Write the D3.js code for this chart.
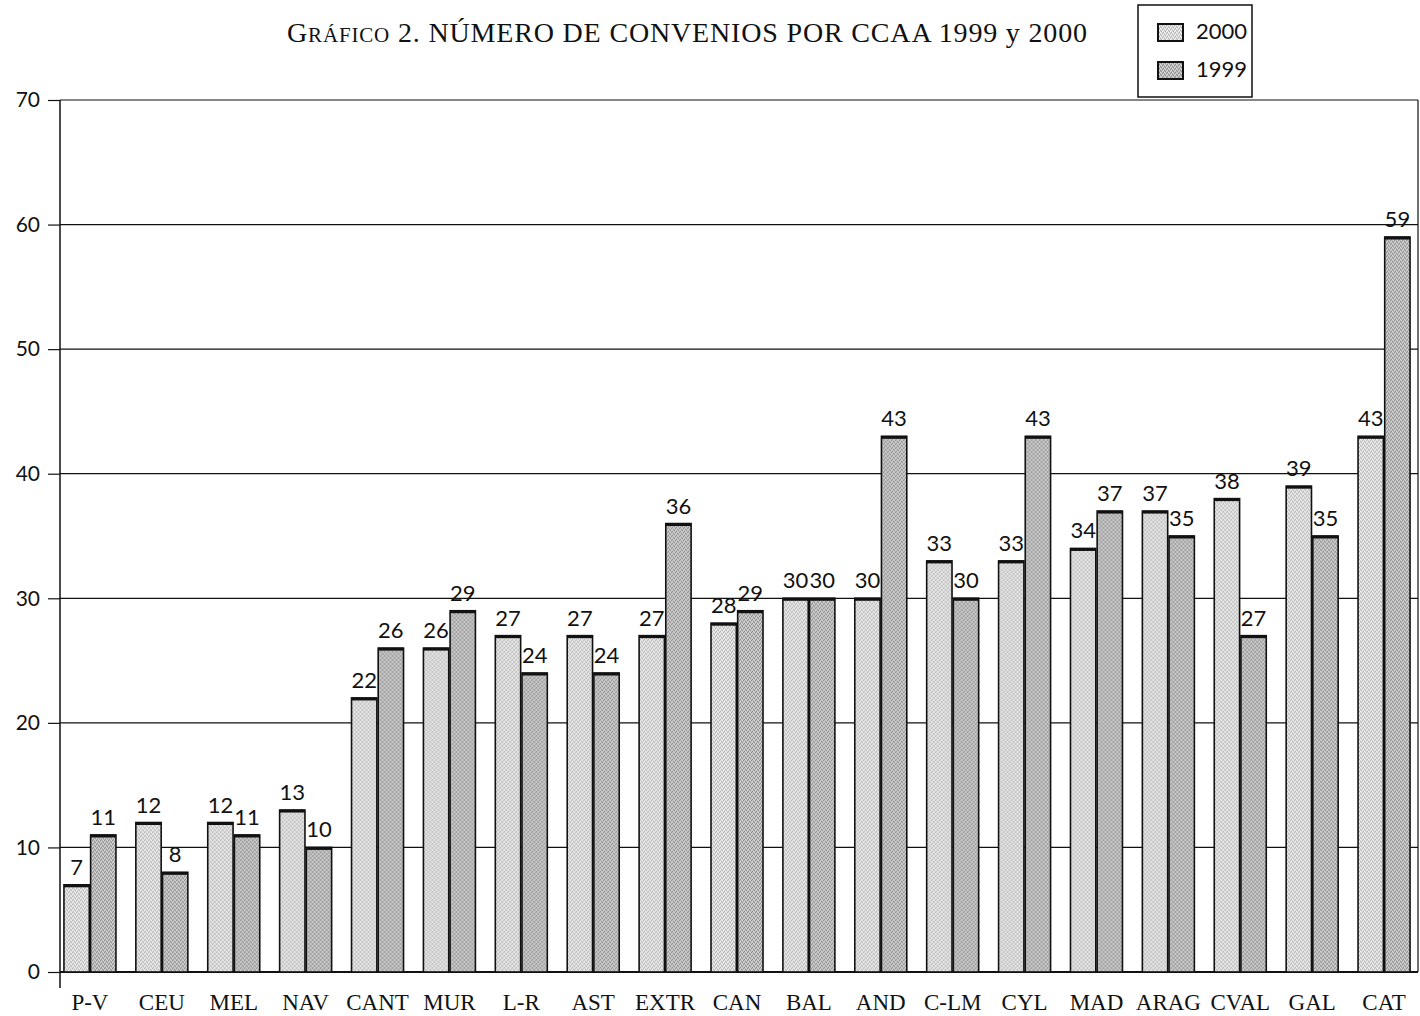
<!DOCTYPE html>
<html>
<head>
<meta charset="utf-8">
<script src="https://cdn.jsdelivr.net/npm/d3@7"></script>
<style>
  body { margin: 0; background: #fff; }
  svg { display: block; }
</style>
</head>
<body>
<div class="chart-area"></div>
<script>
// categories and series
const regions = ["P-V","CEU","MEL","NAV","CANT","MUR","L-R","AST","EXTR","CAN","BAL","AND","C-LM","CYL","MAD","ARAG","CVAL","GAL","CAT"];
const v2000 = [7,12,12,13,22,26,27,27,27,28,30,30,33,33,34,37,38,39,43];
const v1999 = [11,8,11,10,26,29,24,24,36,29,30,43,30,43,37,35,27,35,59];
const years = ["2000","1999"];
const yTicks = [0,10,20,30,40,50,60,70];

const width = 1420, height = 1016;

const svg = d3.select(".chart-area").append("svg")
  .attr("width", width)
  .attr("height", height);

// stipple patterns (fixed dots, no randomness)
const defs = svg.append("defs");
function stipple(id, base, dark, light) {
  const p = defs.append("pattern")
    .attr("id", id)
    .attr("patternUnits", "userSpaceOnUse")
    .attr("width", 4).attr("height", 4);
  p.append("rect").attr("width", 4).attr("height", 4).attr("fill", base);
  [[0,0],[2,1],[1,3],[3,2]].forEach(d => {
    p.append("rect").attr("x", d[0]).attr("y", d[1]).attr("width", 1).attr("height", 1).attr("fill", dark);
  });
  [[1,1],[3,0],[0,2],[2,3]].forEach(d => {
    p.append("rect").attr("x", d[0]).attr("y", d[1]).attr("width", 1).attr("height", 1).attr("fill", light);
  });
}
stipple("pat2000", "#dadada", "#b0b0b0", "#f2f2f2");
stipple("pat1999", "#b9b9b9", "#8c8c8c", "#d8d8d8");
const fills = {"2000": "url(#pat2000)", "1999": "url(#pat1999)"};

const x0 = d3.scaleBand().domain(regions).range([54, 1420]).padding(0);
const groupW = 52;
const x1 = d3.scaleBand().domain(years).range([0, groupW]).paddingInner(0.05);
const y = d3.scaleLinear().domain([0, 70]).range([972, 100]);

// gridlines
svg.append("g")
  .selectAll("line")
  .data(yTicks)
  .join("line")
  .attr("x1", 60).attr("x2", 1418)
  .attr("y1", d => y(d)).attr("y2", d => y(d))
  .attr("stroke", "#111").attr("stroke-width", d => d === 0 ? 2 : 1.2);

// y axis
const yAxis = d3.axisLeft(y).tickValues(yTicks).tickSize(12).tickPadding(8);
const ga = svg.append("g").attr("transform", "translate(60,0)").call(yAxis);
ga.select(".domain").remove();
ga.selectAll(".tick line").attr("stroke", "#111").attr("stroke-width", 1.2);
ga.selectAll(".tick text")
  .attr("font-family", "Lato, 'Open Sans', sans-serif")
  .attr("font-size", 21).attr("fill", "#111");
svg.append("line")
  .attr("x1", 60).attr("x2", 60).attr("y1", y(70)).attr("y2", 988)
  .attr("stroke", "#111").attr("stroke-width", 1.5);
svg.append("line")
  .attr("x1", 1418).attr("x2", 1418).attr("y1", y(70)).attr("y2", y(0))
  .attr("stroke", "#111").attr("stroke-width", 1.2);

// bars
const rows = regions.map((r, i) => ({region: r, vals: [
  {year: "2000", value: v2000[i]},
  {year: "1999", value: v1999[i]}
]}));

const groups = svg.append("g")
  .selectAll("g")
  .data(rows)
  .join("g")
  .attr("transform", d => `translate(${x0(d.region) + (x0.bandwidth() - groupW) / 2},0)`);

groups.selectAll("rect")
  .data(d => d.vals)
  .join("rect")
  .attr("x", d => x1(d.year))
  .attr("y", d => y(d.value))
  .attr("width", x1.bandwidth())
  .attr("height", d => y(0) - y(d.value))
  .attr("fill", d => fills[d.year])
  .attr("stroke", "#111")
  .attr("stroke-width", 1.6);

// top edges a bit heavier
groups.selectAll("line.top")
  .data(d => d.vals)
  .join("line")
  .attr("class", "top")
  .attr("x1", d => x1(d.year)).attr("x2", d => x1(d.year) + x1.bandwidth())
  .attr("y1", d => y(d.value) + 1).attr("y2", d => y(d.value) + 1)
  .attr("stroke", "#111").attr("stroke-width", 3);

// value labels
groups.selectAll("text")
  .data(d => d.vals)
  .join("text")
  .attr("x", d => x1(d.year) + x1.bandwidth() / 2)
  .attr("y", d => y(d.value) - 10)
  .attr("text-anchor", "middle")
  .attr("font-family", "Lato, 'Open Sans', sans-serif")
  .attr("font-size", 22)
  .attr("fill", "#111")
  .text(d => d.value);

// x labels
svg.append("g")
  .selectAll("text")
  .data(regions)
  .join("text")
  .attr("x", d => x0(d) + x0.bandwidth() / 2)
  .attr("y", 1010)
  .attr("text-anchor", "middle")
  .attr("font-family", "'Liberation Serif', serif")
  .attr("font-size", 23)
  .attr("fill", "#111")
  .text(d => d);

// title
const title = svg.append("text")
  .attr("x", 687).attr("y", 42)
  .attr("text-anchor", "middle")
  .attr("font-family", "'Liberation Serif', serif")
  .attr("font-size", 28)
  .attr("textLength", 800)
  .attr("lengthAdjust", "spacing")
  .attr("fill", "#111");
title.append("tspan").text("G");
title.append("tspan").attr("font-size", 21).text("RÁFICO");
title.append("tspan").text("  2. NÚMERO DE CONVENIOS POR CCAA 1999 y 2000");

// legend
const lg = svg.append("g").attr("transform", "translate(1138,5)");
lg.append("rect")
  .attr("width", 114).attr("height", 92)
  .attr("fill", "#fff").attr("stroke", "#111").attr("stroke-width", 1.5);
years.forEach((yr, i) => {
  lg.append("rect")
    .attr("x", 20).attr("y", 19 + i * 38)
    .attr("width", 25).attr("height", 17)
    .attr("fill", fills[yr]).attr("stroke", "#111").attr("stroke-width", 2);
  lg.append("text")
    .attr("x", 58).attr("y", 34 + i * 38)
    .attr("font-family", "Lato, 'Open Sans', sans-serif")
    .attr("font-size", 22).attr("fill", "#111")
    .text(yr);
});
</script>
</body>
</html>
